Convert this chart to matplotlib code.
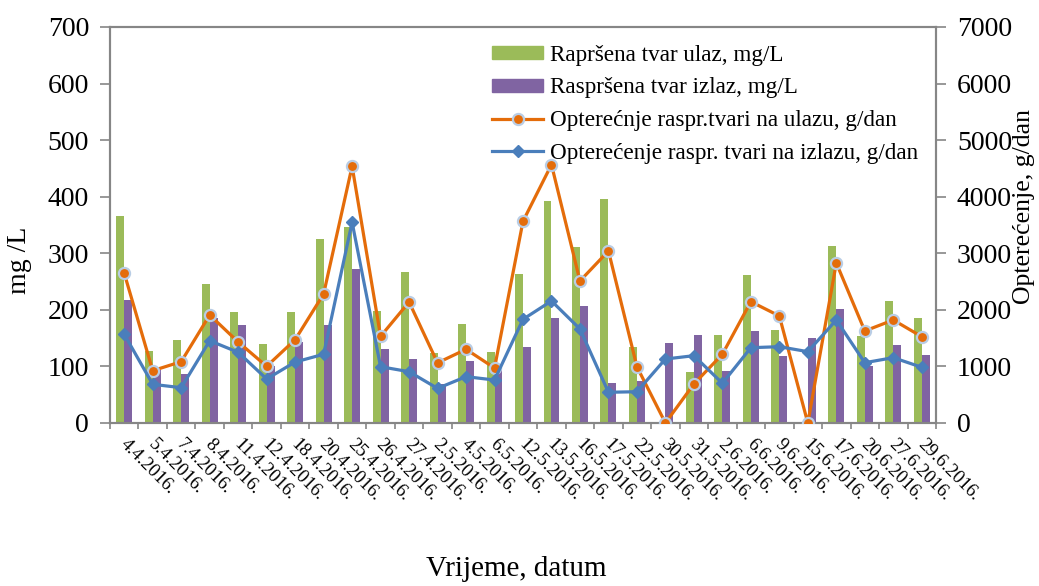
import matplotlib
matplotlib.use("Agg")
import matplotlib.pyplot as plt
import numpy as np
from matplotlib.lines import Line2D
from matplotlib.patches import Patch
from matplotlib.transforms import ScaledTranslation

plt.rcParams['font.family'] = ['Liberation Serif', 'DejaVu Serif']

dates = ["4.4.2016.", "5.4.2016.", "7.4.2016.", "8.4.2016.", "11.4.2016.", "12.4.2016.",
         "18.4.2016.", "20.4.2016.", "25.4.2016.", "26.4.2016.", "27.4.2016.", "2.5.2016.",
         "4.5.2016.", "6.5.2016.", "12.5.2016.", "13.5.2016.", "16.5.2016.", "17.5.2016.",
         "22.5.2016.", "30.5.2016.", "31.5.2016.", "2.6.2016.", "6.6.2016.", "9.6.2016.",
         "15.6.2016.", "17.6.2016.", "20.6.2016.", "27.6.2016.", "29.6.2016."]

# suspended solids concentration, mg/L
tss_in = [366, 128, 147, 245, 196, 139, 196, 326, 347, 198, 267, 124,
          175, 126, 263, 392, 311, 396, 134, 0, 90, 156, 261, 164,
          0, 313, 154, 216, 186]
tss_out = [218, 94, 87, 186, 173, 100, 144, 174, 272, 130, 113, 69,
           110, 98, 135, 186, 206, 70, 75, 141, 156, 92, 162, 118,
           151, 201, 101, 137, 120]

# loads, g/dan
load_in = [2647, 925, 1084, 1909, 1432, 1002, 1473, 2281, 4539, 1532, 2139, 1063,
           1303, 972, 3566, 4567, 2511, 3041, 995, 0, 690, 1215, 2145, 1892,
           0, 2829, 1627, 1821, 1526]
load_out = [1568, 684, 624, 1455, 1250, 778, 1078, 1215, 3548, 995, 907, 612,
            819, 760, 1833, 2157, 1662, 543, 553, 1131, 1190, 702, 1331, 1349,
            1261, 1821, 1066, 1155, 985]

labels = ["Rapršena tvar ulaz, mg/L",
          "Raspršena tvar izlaz, mg/L",
          "Opterećnje raspr.tvari na ulazu, g/dan",
          "Opterećenje raspr. tvari na izlazu, g/dan"]

green = "#9BBB59"
purple = "#8064A2"
orange = "#E46C0A"
blue = "#4A7EBB"
ring = "#B9CDE5"
grey = "#868686"

fig = plt.figure(figsize=(10.39, 5.86), dpi=100)
ax = fig.add_axes([110 / 1039, 1 - 423 / 586, 826 / 1039, 396 / 586])
ax2 = ax.twinx()

x = np.arange(len(dates))
w = 0.28
ax.bar(x - w / 2, tss_in, width=w, color=green, zorder=2)
ax.bar(x + w / 2, tss_out, width=w, color=purple, zorder=2)

ax2.plot(x, load_in, color=orange, lw=2.3, marker='o', ms=8,
         mfc=orange, mec=ring, mew=1.6, zorder=3)
ax2.plot(x, load_out, color=blue, lw=2.3, marker='D', ms=6.5,
         mfc=blue, mec=blue, zorder=4)

ax.set_xlim(-0.5, len(dates) - 0.5)
ax.set_ylim(0, 700)
ax2.set_ylim(0, 7000)
ax.set_yticks(np.arange(0, 701, 100))
ax2.set_yticks(np.arange(0, 7001, 1000))

ax.set_xticks(np.arange(-0.5, len(dates), 1.0))
ax.set_xticklabels([])
ax.set_xticks(x, minor=True)
ax.set_xticklabels(dates, minor=True, rotation=-45, ha='left', va='top',
                   rotation_mode='anchor', fontsize=13.5)
ax.tick_params(axis='x', which='minor', length=0, pad=9)
ax.tick_params(axis='x', which='major', length=4, color=grey, width=1.2)
shift = ScaledTranslation(3 / 72, 0, fig.dpi_scale_trans)
for lab in ax.get_xticklabels(minor=True):
    lab.set_transform(lab.get_transform() + shift)

ax.tick_params(axis='y', length=7, color=grey, width=1.2, labelsize=20, pad=8)
ax2.tick_params(axis='y', length=7, color=grey, width=1.2, labelsize=20, pad=8)

for a in (ax, ax2):
    for s in a.spines.values():
        s.set_color(grey)
        s.set_linewidth(1.5)

ax.set_ylabel("mg /L", fontsize=20)
ax.yaxis.set_label_coords((32 - 110) / 826, (423 - 260) / 396)
ax2.set_ylabel("Opterećenje, g/dan", fontsize=18.5)
ax2.yaxis.set_label_coords((1013 - 110) / 826, (423 - 207) / 396)

fig.text(516 / 1039, 1 - 569 / 586, "Vrijeme, datum", fontsize=21,
         ha='center', va='center')

handles = [Patch(color=green), Patch(color=purple),
           Line2D([], [], color=orange, lw=2.3, marker='o', ms=8, mfc=orange,
                  mec=ring, mew=1.6),
           Line2D([], [], color=blue, lw=2.3, marker='D', ms=6.5, mfc=blue, mec=blue)]
ax2.legend(handles, labels, loc='upper left', bbox_to_anchor=(0.446, 0.99),
           frameon=False, fontsize=16.7, handlelength=2.2, handleheight=0.5,
           handletextpad=0.3, labelspacing=0.5, borderaxespad=0.2)

fig.savefig("out.png", dpi=100)
